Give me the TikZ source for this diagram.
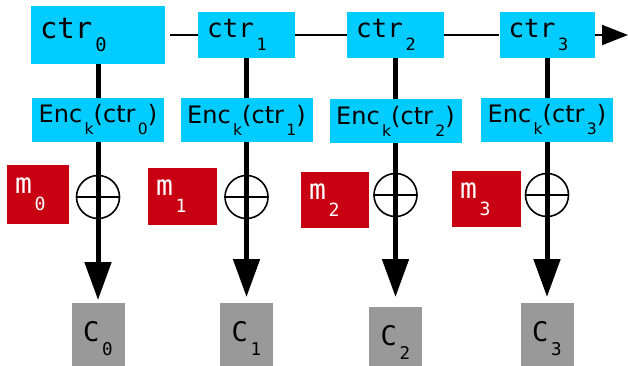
\documentclass[tikz,border=0pt]{standalone}
\usepackage{fontspec}
\setmainfont{DejaVu Sans}
\newfontfamily\monofont{DejaVu Sans Mono}
\usetikzlibrary{arrows.meta}
\definecolor{ctrblue}{RGB}{0,204,255}
\definecolor{msgred}{RGB}{200,0,18}
\definecolor{cgray}{RGB}{153,153,153}
\newcommand\lo[2][.5em]{\kern.1em\raisebox{-#1}{\scalebox{.65}{#2}}}
\tikzset{
  ctrbox/.style={fill=ctrblue, inner xsep=9pt, inner ysep=0pt, align=left,
    font=\monofont\fontsize{26}{26}\selectfont},
  encbox/.style={fill=ctrblue, inner sep=0pt, minimum width=132pt, minimum height=44pt,
    font=\fontsize{24}{24}\selectfont},
  mbox/.style={fill=msgred, text=white, inner xsep=8pt, inner ysep=0pt, align=left,
    font=\monofont\fontsize{28}{28}\selectfont},
  cbox/.style={fill=cgray, inner sep=0pt, minimum width=53pt, minimum height=70pt,
    anchor=north, font=\monofont\fontsize{27}{27}\selectfont},
  xor/.style={circle, draw, line width=1.6pt, minimum size=43pt, inner sep=0pt},
  link/.style={line width=2pt},
  bar/.style={line width=5pt},
  flow/.style={bar, -{Triangle[length=38pt,width=26pt]}, shorten >=6pt}
}
\begin{document}
\begin{tikzpicture}[x=1pt,y=-1pt]
    \useasboundingbox (0,0) rectangle (628,366);

    \node[ctrbox, text width=116pt, minimum height=58pt, font=\monofont\fontsize{29}{29}\selectfont] (ctr0) at (98,35) {ctr\lo[.45em]{0}};
    \node[ctrbox, text width=79pt, minimum height=46pt] (ctr1) at (246.5,35) {ctr\lo{1}};
    \node[ctrbox, text width=79pt, minimum height=46pt] (ctr2) at (395.5,35) {ctr\lo{2}};
    \node[ctrbox, text width=77pt, minimum height=46pt] (ctr3) at (547,35) {ctr\lo{3}};
    \coordinate (out) at (628,35);

    \node[encbox] (enc0) at (98,120) {Enc\lo{k}(ctr\lo{0})};
    \node[encbox] (enc1) at (246.5,120) {Enc\lo{k}(ctr\lo{1})};
    \node[encbox] (enc2) at (395.5,121) {Enc\lo{k}(ctr\lo{2})};
    \node[encbox] (enc3) at (547,120) {Enc\lo{k}(ctr\lo{3})};

    \node[mbox, text width=46pt, minimum height=59pt] (m0) at (38,194.5) {m\lo[.6em]{0}};
    \node[mbox, text width=53pt, minimum height=57pt] (m1) at (182.5,196.5) {m\lo[.6em]{1}};
    \node[mbox, text width=52pt, minimum height=56pt] (m2) at (335,200) {m\lo[.6em]{2}};
    \node[mbox, text width=53pt, minimum height=56pt] (m3) at (486.5,199) {m\lo[.6em]{3}};

    \node[xor] (x0) at (98,197) {};
    \node[xor] (x1) at (246.5,197) {};
    \node[xor] (x2) at (395.5,195) {};
    \node[xor] (x3) at (547,195) {};
    \draw[line width=1.6pt] (x0.west) -- (x0.east) (x1.west) -- (x1.east)
        (x2.west) -- (x2.east) (x3.west) -- (x3.east);

    \node[cbox] (c0) at (98,303) {C\lo[.52em]{0}};
    \node[cbox] (c1) at (246.5,303) {C\lo[.52em]{1}};
    \node[cbox] (c2) at (395.5,307) {C\lo[.52em]{2}};
    \node[cbox] (c3) at (547,303) {C\lo[.52em]{3}};

    \draw[link, shorten <=5pt] (ctr0) -- (ctr1);
    \draw[link] (ctr1) -- (ctr2);
    \draw[link] (ctr2) -- (ctr3);
    \draw[link, -{Triangle[length=26pt,width=20pt]}] (ctr3) -- (out);

    \draw[bar] (ctr0) -- (enc0);
    \draw[bar] (ctr1) -- (enc1);
    \draw[bar] (ctr2) -- (enc2);
    \draw[bar] (ctr3) -- (enc3);

    \draw[flow, shorten >=3pt] (enc0) -- (c0);
    \draw[flow] (enc1) -- (c1);
    \draw[flow, shorten >=10pt] (enc2) -- (c2);
    \draw[flow] (enc3) -- (c3);
\end{tikzpicture}
\end{document}
